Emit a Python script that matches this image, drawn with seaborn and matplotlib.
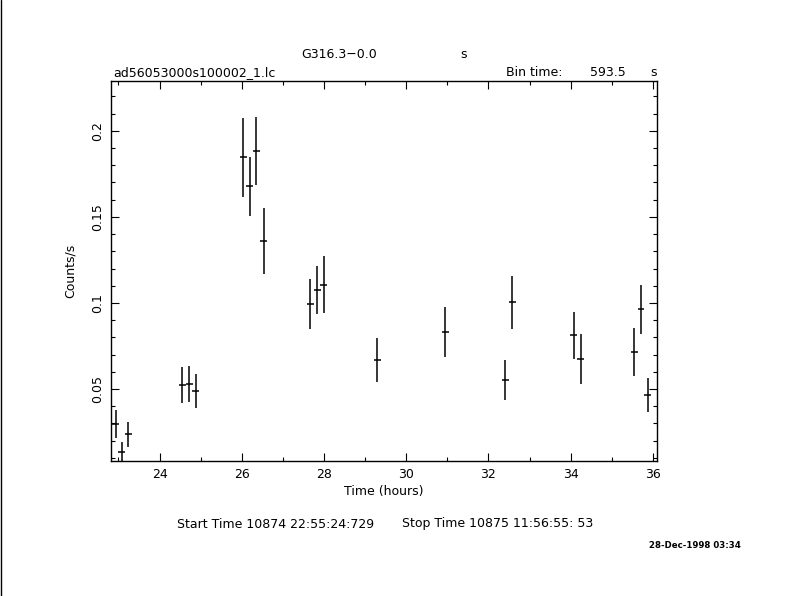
import numpy as np
import pandas as pd
import matplotlib
matplotlib.use("Agg")
import matplotlib.pyplot as plt
import seaborn as sns
from matplotlib.ticker import MultipleLocator, FixedLocator, FixedFormatter

# light curve data (hours, counts/s, error)
time_h = [22.93, 23.08, 23.24, 24.55, 24.72, 24.88, 26.04, 26.19, 26.35, 26.53,
          27.67, 27.84, 27.99, 29.30, 30.95, 32.41, 32.58, 34.07, 34.24,
          35.545, 35.71, 35.87]
rate = [0.0297, 0.0135, 0.0237, 0.0523, 0.0529, 0.0488, 0.1847, 0.1678, 0.1882, 0.1359,
        0.0994, 0.1074, 0.1105, 0.0669, 0.0831, 0.0552, 0.1004, 0.0812, 0.0673,
        0.0715, 0.0963, 0.0465]
rate_err = [0.0081, 0.0056, 0.0072, 0.0102, 0.0105, 0.0099, 0.0230, 0.0170, 0.0198, 0.0190,
            0.0147, 0.0139, 0.0166, 0.0127, 0.0147, 0.0115, 0.0153, 0.0138, 0.0147,
            0.0141, 0.0141, 0.0101]
bin_time = 593.5
ytick_vals = [0.05, 0.1, 0.15, 0.2]
ytick_text = ["0.05", "0.1", "0.15", "0.2"]

df = pd.DataFrame({"t": time_h, "r": rate, "e": rate_err})

sns.set_theme(style="ticks")
plt.rcParams['font.family'] = ['DejaVu Sans']

W, H = 790, 596
fig = plt.figure(figsize=(7.9, 5.96), dpi=100, facecolor="white")
ax = fig.add_axes([111 / W, 1 - 461 / H, 546 / W, 380 / H])

ax.errorbar(df["t"], df["r"], yerr=df["e"], xerr=bin_time / 3600 / 2,
            fmt="none", ecolor="black", elinewidth=1.1, capsize=0)

ax.set_xlim(22.82, 36.1)
ax.set_ylim(0.0081, 0.229)

ax.xaxis.set_major_locator(MultipleLocator(2))
ax.xaxis.set_minor_locator(MultipleLocator(1))
ax.yaxis.set_major_locator(FixedLocator(ytick_vals))
ax.yaxis.set_major_formatter(FixedFormatter(ytick_text))
ax.yaxis.set_minor_locator(MultipleLocator(0.01))

ax.tick_params(which="both", direction="in", top=True, right=True, color="black",
               width=0.8, labelsize=9, labelcolor="black")
ax.tick_params(which="major", length=6, pad=5)
ax.tick_params(which="minor", length=3)
for lab in ax.get_yticklabels():
    lab.set_rotation(90)
    lab.set_va("center")
for s in ax.spines.values():
    s.set_color("black")
    s.set_linewidth(1.0)

ax.set_xlabel("Time (hours)", fontsize=9, labelpad=3, color="black")
ax.set_ylabel("Counts/s", fontsize=9, labelpad=10, color="black")

# header and footer texts
def put(x, y, s, **kw):
    fig.text(x / W, 1 - y / H, s, color="black", **kw)

put(339, 55, "G316.3\u22120.0", fontsize=9, ha="center", va="center")
put(464, 55, "s", fontsize=9, ha="center", va="center")
put(113, 73, "ad56053000s100002_1.lc", fontsize=9, ha="left", va="center")
put(506, 73, "Bin time:", fontsize=9, ha="left", va="center")
put(626, 73, "593.5", fontsize=9, ha="right", va="center")
put(654, 73, "s", fontsize=9, ha="center", va="center")
put(177, 524, "Start Time 10874 22:55:24:729", fontsize=9, ha="left", va="center")
put(593, 524, "Stop Time 10875 11:56:55: 53", fontsize=9, ha="right", va="center")
put(741, 545, "28-Dec-1998 03:34", fontsize=6.2, ha="right", va="center", fontweight="bold")

# left page border
fig.add_artist(plt.Line2D([0.5 / W, 0.5 / W], [0, 1], color="black", linewidth=1.0))

fig.savefig("out.png", dpi=100, facecolor="white")
